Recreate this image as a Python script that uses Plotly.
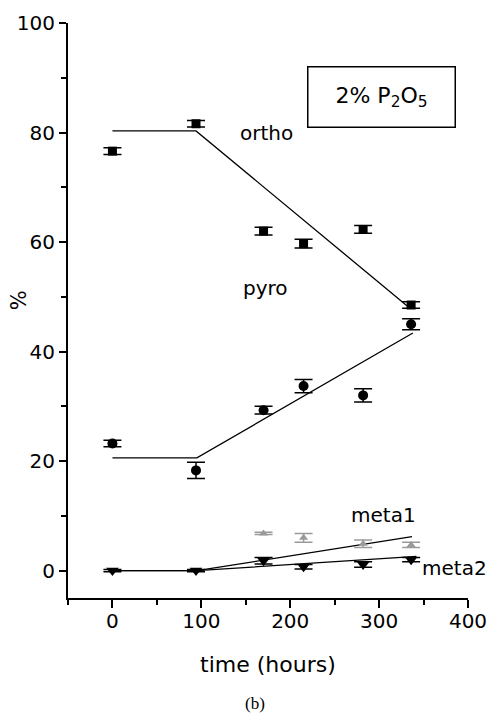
import plotly.graph_objects as go

# measured data
t = [0, 94, 170, 215, 282, 336]
ortho = [76.6, 81.6, 62.0, 59.7, 62.3, 48.5]
ortho_err = [0.6, 0.6, 0.7, 0.8, 0.7, 0.6]
pyro = [23.2, 18.3, 29.3, 33.7, 32.0, 45.0]
pyro_err = [0.6, 1.5, 0.7, 1.2, 1.2, 1.0]
meta1_t = [170, 215, 282, 336]
meta1 = [6.8, 6.0, 4.9, 4.7]
meta1_err = [0.2, 0.8, 0.7, 0.5]
meta2 = [0.0, 0.0, 1.8, 0.7, 1.1, 2.0]
meta2_err = [0.2, 0.2, 0.6, 0.4, 0.5, 0.4]

# fitted lines
ortho_fit_t = [0, 94, 334]
ortho_fit = [80.3, 80.3, 48.0]
pyro_fit_t = [0, 95, 338]
pyro_fit = [20.6, 20.6, 43.4]
meta1_fit_t = [0, 95, 337]
meta1_fit = [0.0, 0.0, 6.2]
meta2_fit_t = [0, 95, 342]
meta2_fit = [0.0, 0.0, 2.6]

FONT = "DejaVu Sans, Liberation Sans, sans-serif"
fig = go.Figure()

for fx, fy in [(ortho_fit_t, ortho_fit), (pyro_fit_t, pyro_fit),
               (meta1_fit_t, meta1_fit), (meta2_fit_t, meta2_fit)]:
    fig.add_trace(go.Scatter(x=fx, y=fy, mode="lines",
                             line=dict(color="black", width=1.3),
                             showlegend=False, hoverinfo="skip"))

def pts(x, y, err, symbol, color, size):
    fig.add_trace(go.Scatter(
        x=x, y=y, mode="markers",
        marker=dict(symbol=symbol, color=color, size=size, line=dict(width=0)),
        error_y=dict(type="data", array=err, visible=True, color=color,
                     thickness=1.5, width=9),
        showlegend=False))

pts(t, ortho, ortho_err, "square", "black", 9)
pts(t, pyro, pyro_err, "circle", "black", 10)
pts(meta1_t, meta1, meta1_err, "triangle-up", "#9a9a9a", 8)
pts(t, meta2, meta2_err, "triangle-down", "black", 11)

labels = [("ortho", 173, 80.0), ("pyro", 172, 51.6), ("meta1", 305, 10.2), ("meta2", 385, 0.5)]
for txt, x, y in labels:
    fig.add_annotation(x=x, y=y, text=txt, showarrow=False,
                       font=dict(family=FONT, size=20, color="black"))

fig.add_annotation(x=302.5, y=86.4, text="2% P<sub>2</sub>O<sub>5</sub>", showarrow=False,
                   font=dict(family=FONT, size=22, color="black"),
                   bordercolor="black", borderwidth=1.5, width=144, height=57,
                   bgcolor="white")

# axis titles as annotations for exact placement
fig.add_annotation(xref="paper", yref="paper", x=0.5, y=-0.1165, text="time (hours)",
                   showarrow=False, xanchor="center", yanchor="middle",
                   font=dict(family=FONT, size=22, color="black"))
fig.add_annotation(xref="paper", yref="paper", x=-0.1225, y=0.518, text="%",
                   showarrow=False, xanchor="center", yanchor="middle", textangle=-90,
                   font=dict(family=FONT, size=21, color="black"))

fig.add_annotation(xref="paper", yref="paper", x=0.4675, y=-0.184, text="(b)",
                   showarrow=False, xanchor="center", yanchor="middle",
                   font=dict(family="Liberation Serif, Times New Roman, serif",
                             size=17, color="black"))

fig.update_xaxes(range=[-50, 400], tickvals=[0, 100, 200, 300, 400],
                 automargin=False,
                 showline=True, linecolor="black", linewidth=2,
                 ticks="outside", ticklen=8, tickwidth=1.5, tickcolor="black",
                 minor=dict(tickvals=[-50, 50, 150, 250, 350], ticks="outside",
                            ticklen=5, tickwidth=1.5, tickcolor="black"),
                 showgrid=False, zeroline=False, ticklabelstandoff=-4,
                 tickfont=dict(family=FONT, size=20, color="black"))
fig.update_yaxes(range=[-5, 100], tickvals=[0, 20, 40, 60, 80, 100],
                 automargin=False,
                 showline=True, linecolor="black", linewidth=2,
                 ticks="outside", ticklen=7, tickwidth=1.5, tickcolor="black",
                 minor=dict(tickvals=[10, 30, 50, 70, 90], ticks="outside",
                            ticklen=5, tickwidth=1.5, tickcolor="black"),
                 showgrid=False, zeroline=False,
                 tickfont=dict(family=FONT, size=20, color="black"))

fig.update_layout(width=493, height=718, margin=dict(l=68, r=25, t=23, b=120),
                  plot_bgcolor="white", paper_bgcolor="white", showlegend=False)

fig.write_html("out.html")
